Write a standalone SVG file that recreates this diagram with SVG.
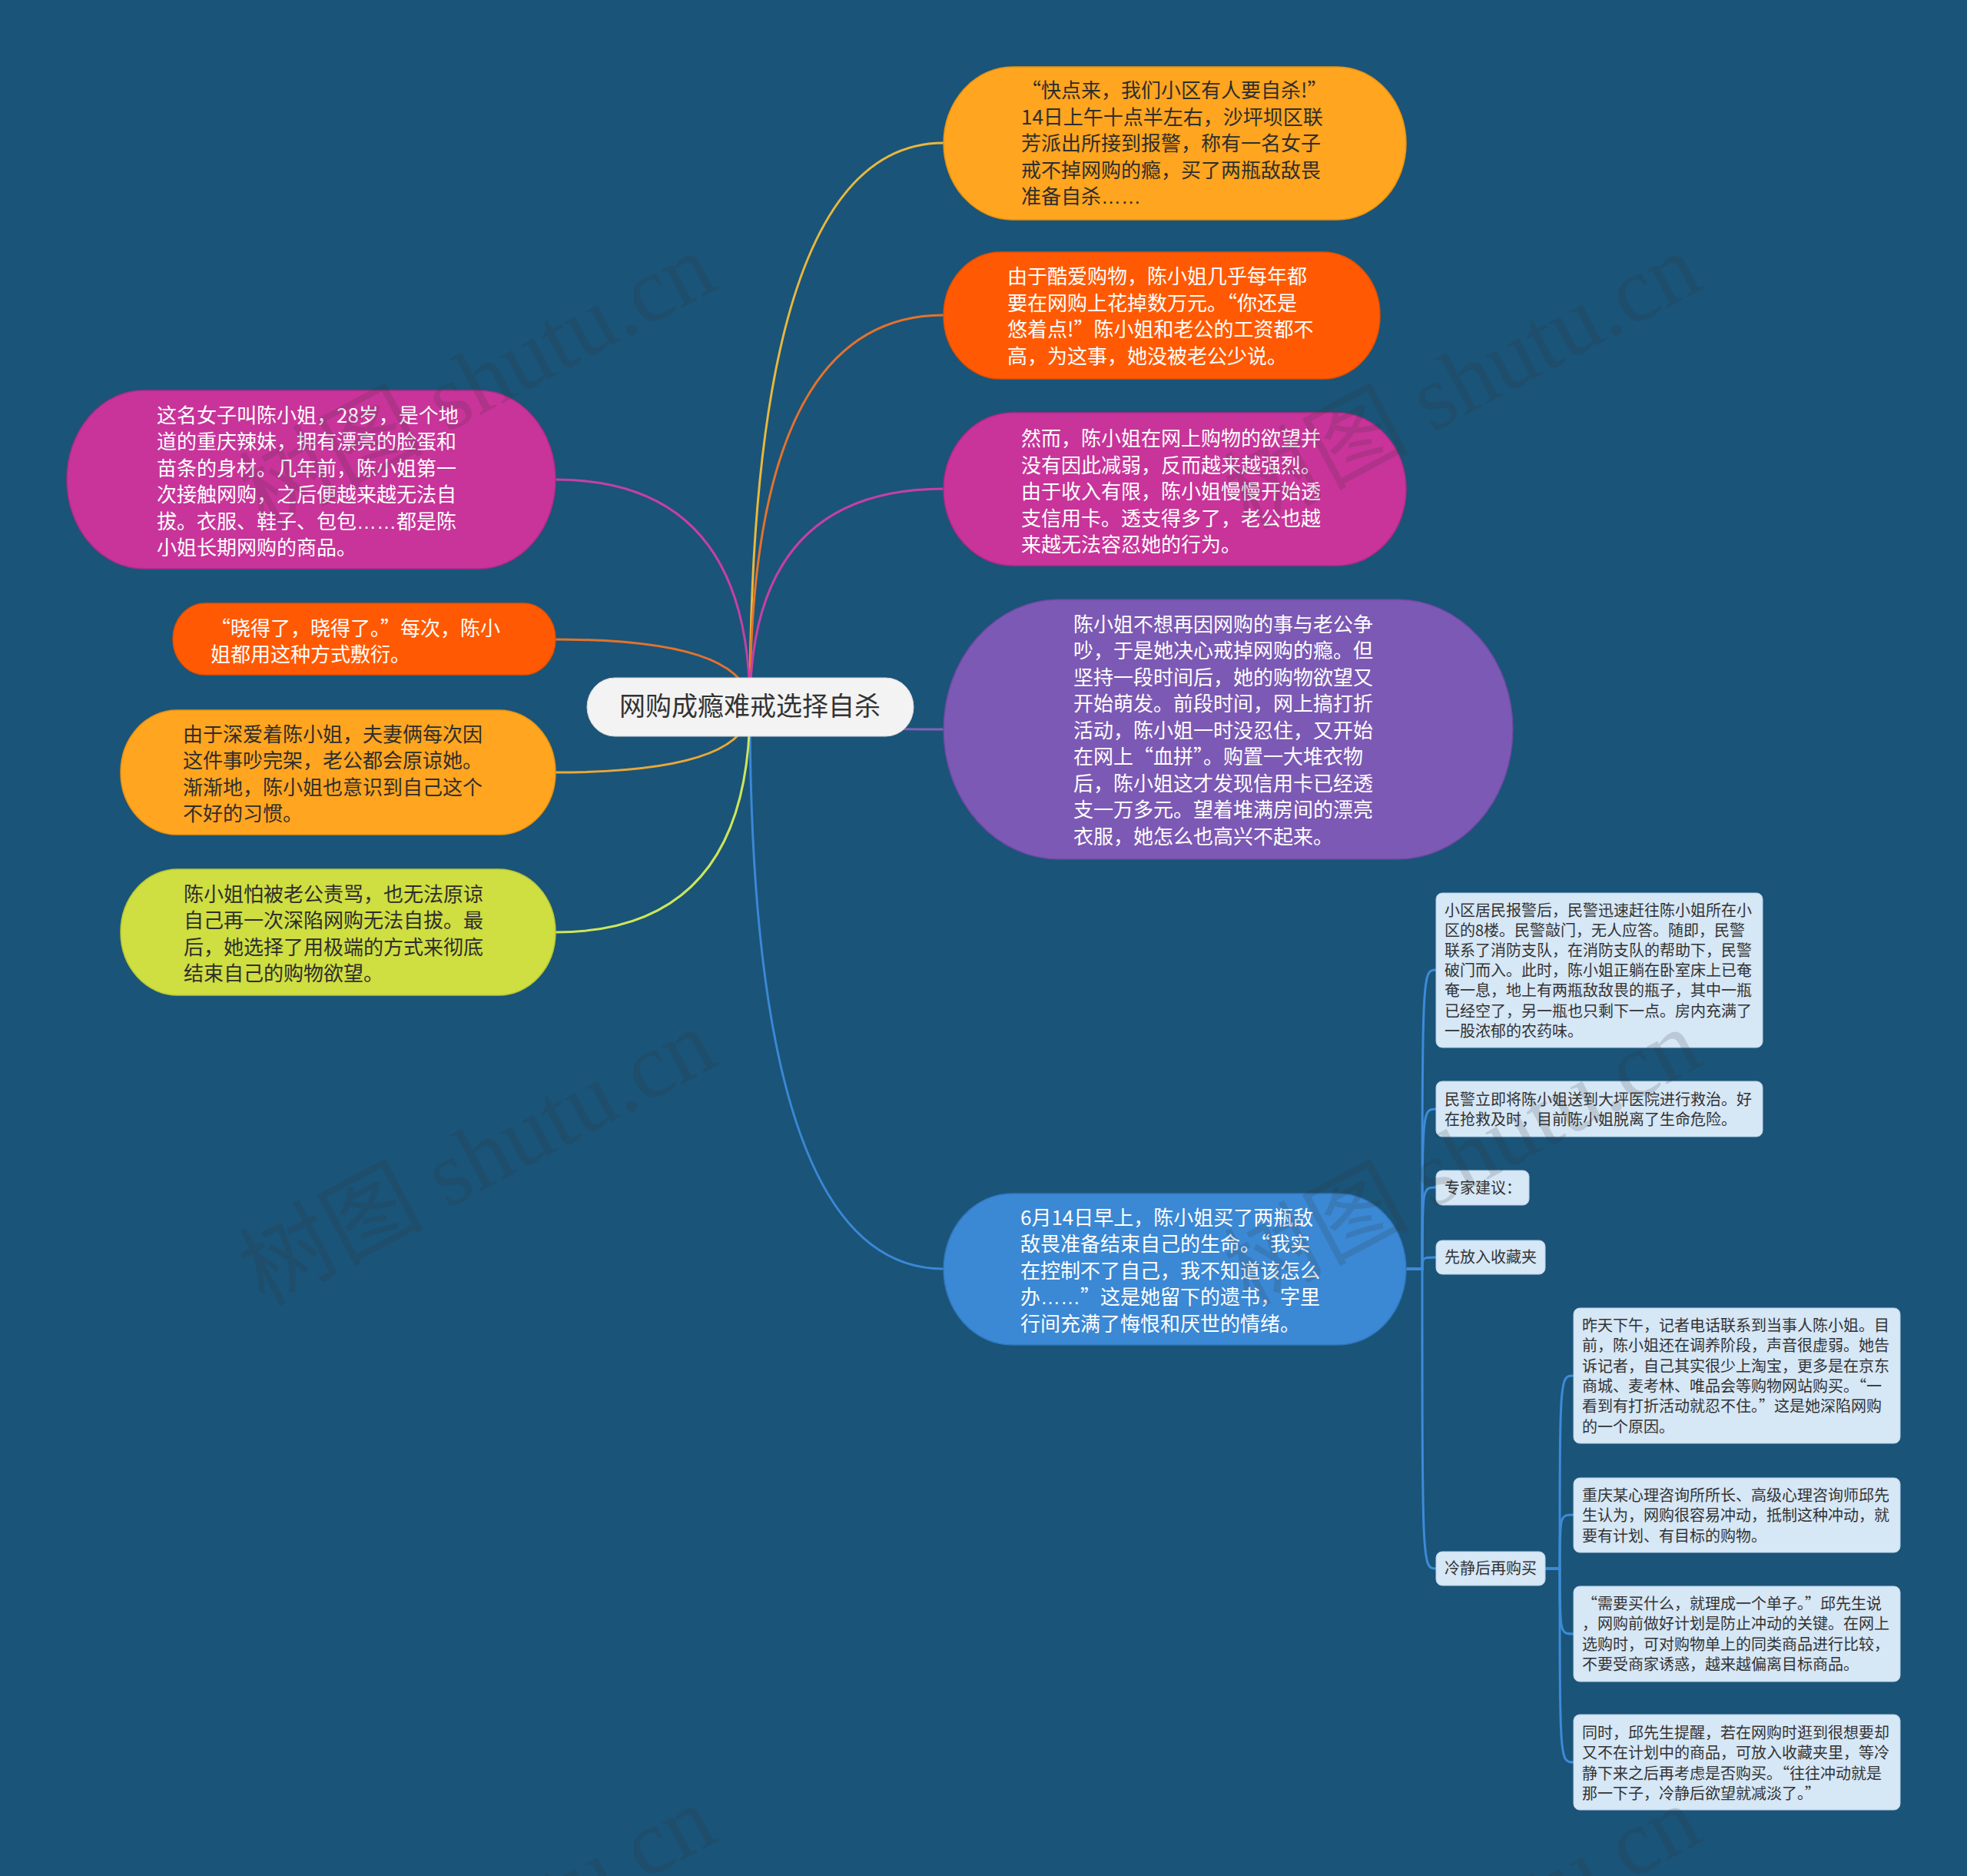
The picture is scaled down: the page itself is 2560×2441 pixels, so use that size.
<svg xmlns="http://www.w3.org/2000/svg" width="2560" height="2441" viewBox="0 0 2560 2441">
<style>
.t{font-family:"Noto Sans CJK SC","Noto Sans",sans-serif;font-size:26px}
.w{fill:#ffffff}
.d{fill:#2e2e2e}
.s{font-family:"Noto Sans CJK SC","Noto Sans",sans-serif;font-size:20px;fill:#333333}
.q{font-feature-settings:"fwid" 1}
.e{font-family:"Liberation Sans",sans-serif}
.c{fill:none;stroke-width:3;stroke-linecap:round}
.sc{fill:none;stroke:#3c8bd8;stroke-width:3}
.sn{fill:#d6e7f6;stroke:#b9d1e8;stroke-width:1}
.wm{font-family:"Liberation Serif","Noto Sans CJK SC",serif;font-size:120px;fill:#333333;opacity:0.16}
</style>
<rect width="2560" height="2441" fill="#1a5478"/>
<g id="connectors">
<path class="c" stroke="#e8b83e" d="M976,920 Q976,186 1228,186"/>
<path class="c" stroke="#e4722c" d="M976,920 Q976,410 1228,410"/>
<path class="c" stroke="#c540a2" d="M976,920 Q976,636 1228,636"/>
<path class="c" stroke="#8060b8" d="M976,920 Q976,949 1228,949"/>
<path class="c" stroke="#3a88d6" d="M976,920 Q976,1651 1228,1651"/>
<path class="c" stroke="#c540a2" d="M976,920 Q976,624 723,624"/>
<path class="c" stroke="#e4722c" d="M976,920 Q976,832 723,832"/>
<path class="c" stroke="#eaa838" d="M976,920 Q976,1005 723,1005"/>
<path class="c" stroke="#cde65a" d="M976,920 Q976,1213 723,1213"/>
<path class="sc" d="M1830,1651 H1851 C1851,1262 1851,1262 1869,1262"/>
<path class="sc" d="M1830,1651 H1851 C1851,1443 1851,1443 1869,1443"/>
<path class="sc" d="M1830,1651 H1851 C1851,1545 1851,1545 1869,1545"/>
<path class="sc" d="M1830,1651 H1851 C1851,1636 1851,1636 1869,1636"/>
<path class="sc" d="M1830,1651 H1851 C1851,2041 1851,2041 1869,2041"/>
<path class="sc" d="M2011,2041 H2030 C2030,1790 2030,1790 2048,1790"/>
<path class="sc" d="M2011,2041 H2030 C2030,1971 2030,1971 2048,1971"/>
<path class="sc" d="M2011,2041 H2030 C2030,2126 2030,2126 2048,2126"/>
<path class="sc" d="M2011,2041 H2030 C2030,2293 2030,2293 2048,2293"/>
</g>
<g id="root">
<rect x="764" y="882" width="425" height="76" rx="36" ry="38" fill="#f3f3f3" stroke="#d8d8d8" stroke-width="1"/>
<text x="976" y="931" text-anchor="middle" style="font-family:'Noto Sans CJK SC','Noto Sans',sans-serif;font-size:34px;fill:#333333">网购成瘾难戒选择自杀</text>
</g>
<g id="nA">
<rect x="1228" y="87" width="602" height="199" rx="90" ry="99.5" fill="#ffa51f" stroke="#e8920f" stroke-width="1.5"/>
<text class="t d"><tspan x="1329" y="127"><tspan class="q">“</tspan>快点来，我们小区有人要自杀!<tspan class="q">”</tspan></tspan><tspan x="1329" y="161.5">14日上午十点半左右，沙坪坝区联</tspan><tspan x="1329" y="196">芳派出所接到报警，称有一名女子</tspan><tspan x="1329" y="230.5">戒不掉网购的瘾，买了两瓶敌敌畏</tspan><tspan x="1329" y="265">准备自杀<tspan class="e">……</tspan></tspan></text>
</g>
<g id="nB">
<rect x="1228" y="328" width="568" height="165" rx="74" ry="82.5" fill="#ff5a03" stroke="#e24f00" stroke-width="1.5"/>
<text class="t w"><tspan x="1311" y="369">由于酷爱购物，陈小姐几乎每年都</tspan><tspan x="1311" y="403.5">要在网购上花掉数万元。<tspan class="q">“</tspan>你还是</tspan><tspan x="1311" y="438">悠着点!<tspan class="q">”</tspan>陈小姐和老公的工资都不</tspan><tspan x="1311" y="472.5">高，为这事，她没被老公少说。</tspan></text>
</g>
<g id="nC">
<rect x="1228" y="537" width="602" height="199" rx="90" ry="99.5" fill="#c8349a" stroke="#b02a86" stroke-width="1.5"/>
<text class="t w"><tspan x="1329" y="580">然而，陈小姐在网上购物的欲望并</tspan><tspan x="1329" y="614.5">没有因此减弱，反而越来越强烈。</tspan><tspan x="1329" y="649">由于收入有限，陈小姐慢慢开始透</tspan><tspan x="1329" y="683.5">支信用卡。透支得多了，老公也越</tspan><tspan x="1329" y="718">来越无法容忍她的行为。</tspan></text>
</g>
<g id="nD">
<rect x="1228" y="780" width="741" height="338" rx="150" ry="169" fill="#7c59b4" stroke="#6a49a0" stroke-width="1.5"/>
<text class="t w"><tspan x="1397" y="821.5">陈小姐不想再因网购的事与老公争</tspan><tspan x="1397" y="856">吵，于是她决心戒掉网购的瘾。但</tspan><tspan x="1397" y="890.5">坚持一段时间后，她的购物欲望又</tspan><tspan x="1397" y="925">开始萌发。前段时间，网上搞打折</tspan><tspan x="1397" y="959.5">活动，陈小姐一时没忍住，又开始</tspan><tspan x="1397" y="994">在网上<tspan class="q">“</tspan>血拼<tspan class="q">”</tspan>。购置一大堆衣物</tspan><tspan x="1397" y="1028.5">后，陈小姐这才发现信用卡已经透</tspan><tspan x="1397" y="1063">支一万多元。望着堆满房间的漂亮</tspan><tspan x="1397" y="1097.5">衣服，她怎么也高兴不起来。</tspan></text>
</g>
<g id="nE">
<rect x="1228" y="1553" width="602" height="197" rx="89" ry="98.5" fill="#3b88d4" stroke="#2f76be" stroke-width="1.5"/>
<text class="t w"><tspan x="1328" y="1593.5">6月14日早上，陈小姐买了两瓶敌</tspan><tspan x="1328" y="1628">敌畏准备结束自己的生命。<tspan class="q">“</tspan>我实</tspan><tspan x="1328" y="1662.5">在控制不了自己，我不知道该怎么</tspan><tspan x="1328" y="1697">办<tspan class="e">……</tspan><tspan class="q">”</tspan>这是她留下的遗书，字里</tspan><tspan x="1328" y="1731.5">行间充满了悔恨和厌世的情绪。</tspan></text>
</g>
<g id="nF">
<rect x="87" y="508" width="636" height="232" rx="100" ry="116" fill="#c8349a" stroke="#b02a86" stroke-width="1.5"/>
<text class="t w"><tspan x="204" y="549.5">这名女子叫陈小姐，28岁，是个地</tspan><tspan x="204" y="584">道的重庆辣妹，拥有漂亮的脸蛋和</tspan><tspan x="204" y="618.5">苗条的身材。几年前，陈小姐第一</tspan><tspan x="204" y="653">次接触网购，之后便越来越无法自</tspan><tspan x="204" y="687.5">拔。衣服、鞋子、包包<tspan class="e">……</tspan>都是陈</tspan><tspan x="204" y="722">小姐长期网购的商品。</tspan></text>
</g>
<g id="nG">
<rect x="225" y="785" width="498" height="93" rx="42" ry="46.5" fill="#ff5a03" stroke="#e24f00" stroke-width="1.5"/>
<text class="t w"><tspan x="274" y="826.5"><tspan class="q">“</tspan>晓得了，晓得了。<tspan class="q">”</tspan>每次，陈小</tspan><tspan x="274" y="860.5">姐都用这种方式敷衍。</tspan></text>
</g>
<g id="nH">
<rect x="157" y="924" width="566" height="162" rx="73" ry="81" fill="#ffa51f" stroke="#e8920f" stroke-width="1.5"/>
<text class="t d"><tspan x="238" y="964.5">由于深爱着陈小姐，夫妻俩每次因</tspan><tspan x="238" y="999">这件事吵完架，老公都会原谅她。</tspan><tspan x="238" y="1033.5">渐渐地，陈小姐也意识到自己这个</tspan><tspan x="238" y="1068">不好的习惯。</tspan></text>
</g>
<g id="nI">
<rect x="157" y="1131" width="566" height="164" rx="74" ry="82" fill="#cfde40" stroke="#b8c832" stroke-width="1.5"/>
<text class="t d"><tspan x="239" y="1172.5">陈小姐怕被老公责骂，也无法原谅</tspan><tspan x="239" y="1207">自己再一次深陷网购无法自拔。最</tspan><tspan x="239" y="1241.5">后，她选择了用极端的方式来彻底</tspan><tspan x="239" y="1276">结束自己的购物欲望。</tspan></text>
</g>
<g id="nJ">
<rect class="sn" x="1869" y="1162" width="425" height="201" rx="8"/>
<text class="s"><tspan x="1880" y="1191.5">小区居民报警后，民警迅速赶往陈小姐所在小</tspan><tspan x="1880" y="1217.7">区的8楼。民警敲门，无人应答。随即，民警</tspan><tspan x="1880" y="1243.9">联系了消防支队，在消防支队的帮助下，民警</tspan><tspan x="1880" y="1270.1">破门而入。此时，陈小姐正躺在卧室床上已奄</tspan><tspan x="1880" y="1296.3">奄一息，地上有两瓶敌敌畏的瓶子，其中一瓶</tspan><tspan x="1880" y="1322.5">已经空了，另一瓶也只剩下一点。房内充满了</tspan><tspan x="1880" y="1348.7">一股浓郁的农药味。</tspan></text>
</g>
<g id="nK">
<rect class="sn" x="1869" y="1407" width="425" height="72" rx="8"/>
<text class="s"><tspan x="1880" y="1438">民警立即将陈小姐送到大坪医院进行救治。好</tspan><tspan x="1880" y="1464.2">在抢救及时，目前陈小姐脱离了生命危险。</tspan></text>
</g>
<g id="nL">
<rect class="sn" x="1869" y="1523" width="121" height="45" rx="8"/>
<text class="s" x="1880" y="1553">专家建议：</text>
</g>
<g id="nM">
<rect class="sn" x="1869" y="1614" width="142" height="44" rx="8"/>
<text class="s" x="1880" y="1643">先放入收藏夹</text>
</g>
<g id="nN">
<rect class="sn" x="1869" y="2019" width="142" height="44" rx="8"/>
<text class="s" x="1880" y="2048">冷静后再购买</text>
</g>
<g id="nO1">
<rect class="sn" x="2048" y="1702" width="425" height="176" rx="8"/>
<text class="s"><tspan x="2059" y="1732">昨天下午，记者电话联系到当事人陈小姐。目</tspan><tspan x="2059" y="1758.3">前，陈小姐还在调养阶段，声音很虚弱。她告</tspan><tspan x="2059" y="1784.6">诉记者，自己其实很少上淘宝，更多是在京东</tspan><tspan x="2059" y="1810.9">商城、麦考林、唯品会等购物网站购买。<tspan class="q">“</tspan>一</tspan><tspan x="2059" y="1837.2">看到有打折活动就忍不住。<tspan class="q">”</tspan>这是她深陷网购</tspan><tspan x="2059" y="1863.5">的一个原因。</tspan></text>
</g>
<g id="nO2">
<rect class="sn" x="2048" y="1923" width="425" height="97" rx="8"/>
<text class="s"><tspan x="2059" y="1953">重庆某心理咨询所所长、高级心理咨询师邱先</tspan><tspan x="2059" y="1979.3">生认为，网购很容易冲动，抵制这种冲动，就</tspan><tspan x="2059" y="2005.6">要有计划、有目标的购物。</tspan></text>
</g>
<g id="nO3">
<rect class="sn" x="2048" y="2064" width="425" height="124" rx="8"/>
<text class="s"><tspan x="2059" y="2094"><tspan class="q">“</tspan>需要买什么，就理成一个单子。<tspan class="q">”</tspan>邱先生说</tspan><tspan x="2059" y="2120.3">，网购前做好计划是防止冲动的关键。在网上</tspan><tspan x="2059" y="2146.6">选购时，可对购物单上的同类商品进行比较，</tspan><tspan x="2059" y="2172.9">不要受商家诱惑，越来越偏离目标商品。</tspan></text>
</g>
<g id="nO4">
<rect class="sn" x="2048" y="2231" width="425" height="124" rx="8"/>
<text class="s"><tspan x="2059" y="2262">同时，邱先生提醒，若在网购时逛到很想要却</tspan><tspan x="2059" y="2288.3">又不在计划中的商品，可放入收藏夹里，等冷</tspan><tspan x="2059" y="2314.6">静下来之后再考虑是否购买。<tspan class="q">“</tspan>往往冲动就是</tspan><tspan x="2059" y="2340.9">那一下子，冷静后欲望就减淡了。<tspan class="q">”</tspan></tspan></text>
</g>
<g id="watermark">
<text class="wm" transform="translate(343,690) rotate(-28)">树图 shutu.cn</text>
<text class="wm" transform="translate(343,1700) rotate(-28)">树图 shutu.cn</text>
<text class="wm" transform="translate(343,2710) rotate(-28)">树图 shutu.cn</text>
<text class="wm" transform="translate(1625,690) rotate(-28)">树图 shutu.cn</text>
<text class="wm" transform="translate(1625,1700) rotate(-28)">树图 shutu.cn</text>
<text class="wm" transform="translate(1625,2710) rotate(-28)">树图 shutu.cn</text>
</g>
</svg>
